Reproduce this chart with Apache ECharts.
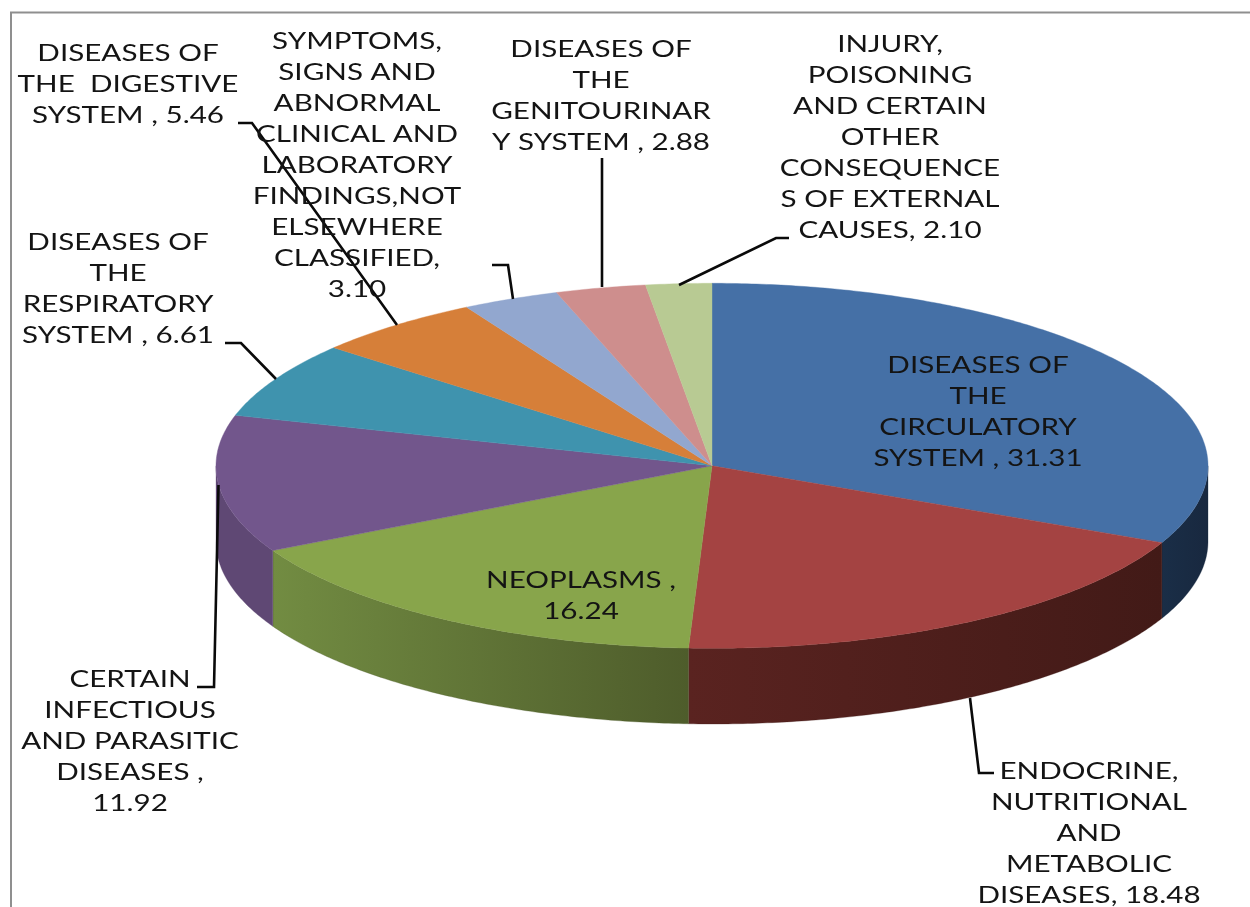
<!DOCTYPE html>
<html>
<head>
<meta charset="utf-8">
<style>html,body{margin:0;padding:0;background:#fff}#chart{width:1250px;height:907px}</style>
<script src="https://cdn.jsdelivr.net/npm/echarts@6/dist/echarts.min.js"></script>
</head>
<body>
<div id="chart"></div>
<script>
// ---- data ----
const categories = [
  "DISEASES OF\nTHE\nCIRCULATORY\nSYSTEM",
  "ENDOCRINE,\nNUTRITIONAL\nAND\nMETABOLIC\nDISEASES",
  "NEOPLASMS",
  "CERTAIN\nINFECTIOUS\nAND PARASITIC\nDISEASES",
  "DISEASES OF\nTHE\nRESPIRATORY\nSYSTEM",
  "DISEASES OF\nTHE  DIGESTIVE\nSYSTEM",
  "SYMPTOMS,\nSIGNS AND\nABNORMAL\nCLINICAL AND\nLABORATORY\nFINDINGS,NOT\nELSEWHERE\nCLASSIFIED",
  "DISEASES OF\nTHE\nGENITOURINAR\nY SYSTEM",
  "INJURY,\nPOISONING\nAND CERTAIN\nOTHER\nCONSEQUENCE\nS OF EXTERNAL\nCAUSES"
];
const values = [31.31, 18.48, 16.24, 11.92, 6.61, 5.46, 3.10, 2.88, 2.10];
const separators = [" , ", ", ", " ,\n", " ,\n", " , ", " , ", ",\n", " , ", ", "];

// ---- styling and layout ----
const topColors = ["#4570A6","#A44342","#88A54B","#72568C","#3F93AE","#D67F39","#92A7CF","#CE8E8D","#B8CA93"];
const wallColors = [
  ["#1A2E47","#18283F"], ["#5A2320","#421A17"], ["#728C42","#4E5C2B"], ["#5F4874","#5F4874"],
  ["#2F6E82","#2F6E82"], ["#A05F2A","#A05F2A"], ["#6D7D9B","#6D7D9B"], ["#9A6A6A","#9A6A6A"], ["#8A976E","#8A976E"]
];
const pie = {cx: 712, cy: 465.8, rx: 496, ry: 182.5, depth: 75.7};
const labelCentres = [[978,412],[1089,833.5],[581,596],[130,741.5],[118,289],[128,84.5],[357,165],[601,95.5],[890,137.5]];
const textStretch = 1.26;
const textSize = 23.5;
const lineGap = 31;
const leaders = [
  null,
  [[970,698],[979,773],[994,773]],
  null,
  [[197,687],[214,687],[218.5,485]],
  [[225,343],[241,343],[276,379]],
  [[238,123],[252,123],[397,325]],
  [[492,265],[508,265],[513,299]],
  [[602,158],[602,287]],
  [[789,238],[776,238],[679,285]]
];

const total = values.reduce((a, b) => a + b, 0);
// angle measured clockwise from the top of the ellipse
function angleAt(i) {
  let s = 0;
  for (let k = 0; k < i; k++) s += values[k];
  return s / total * Math.PI * 2;
}
function rimPoint(a, drop) {
  return [pie.cx + pie.rx * Math.sin(a), pie.cy - pie.ry * Math.cos(a) + (drop || 0)];
}
function arcPoints(a0, a1, drop) {
  const n = Math.max(2, Math.ceil((a1 - a0) / 0.01));
  const pts = [];
  for (let k = 0; k <= n; k++) pts.push(rimPoint(a0 + (a1 - a0) * k / n, drop));
  return pts;
}

function renderSlice(params, api) {
  const i = params.dataIndex;
  const a0 = angleAt(i);
  const a1 = a0 + api.value(0) / total * Math.PI * 2;
  const children = [];

  // visible outer wall (front half only)
  const w0 = Math.max(a0, Math.PI / 2), w1 = Math.min(a1, Math.PI * 1.5);
  if (w1 > w0) {
    const topEdge = arcPoints(w0, w1, 0);
    const bottomEdge = arcPoints(w0, w1, pie.depth).reverse();
    children.push({
      type: 'polygon', z2: 1,
      shape: {points: topEdge.concat(bottomEdge)},
      style: {
        fill: new echarts.graphic.LinearGradient(
          0, 0, 1, 0,
          [{offset: 0, color: wallColors[i][0]}, {offset: 1, color: wallColors[i][1]}]),
        stroke: wallColors[i][1], lineWidth: 0.3
      }
    });
  }

  // top face
  children.push({
    type: 'polygon', z2: 2,
    shape: {points: [[pie.cx, pie.cy]].concat(arcPoints(a0, a1, 0))},
    style: {fill: topColors[i], stroke: topColors[i], lineWidth: 0.4}
  });

  // leader line
  if (leaders[i]) {
    children.push({
      type: 'polyline', z2: 3,
      shape: {points: leaders[i]},
      style: {fill: null, stroke: '#0a0a0a', lineWidth: 2.6}
    });
  }

  // data label
  children.push({
    type: 'text', z2: 4,
    x: labelCentres[i][0], y: labelCentres[i][1],
    scaleX: textStretch,
    style: {
      x: 0, y: 0,
      text: categories[i] + separators[i] + api.value(0).toFixed(2),
      fill: '#141414',
      font: textSize + 'px Lato, Carlito, sans-serif',
      lineHeight: lineGap,
      align: 'center', verticalAlign: 'middle',
      textAlign: 'center', textVerticalAlign: 'middle'
    }
  });
  return {type: 'group', children: children};
}

const chart = echarts.init(document.getElementById('chart'), null, {renderer: 'canvas'});
chart.setOption({
  animation: false,
  backgroundColor: '#ffffff',
  graphic: [{
    type: 'polyline',
    shape: {points: [[11, 907], [11, 12.5], [1250, 12.5]]},
    style: {fill: null, stroke: '#8f8f8f', lineWidth: 2}
  }],
  series: [{
    type: 'custom',
    coordinateSystem: 'none',
    renderItem: renderSlice,
    data: values.map((v, i) => ({name: categories[i].replace(/\n/g, ' '), value: [v]}))
  }]
});
</script>
</body>
</html>
